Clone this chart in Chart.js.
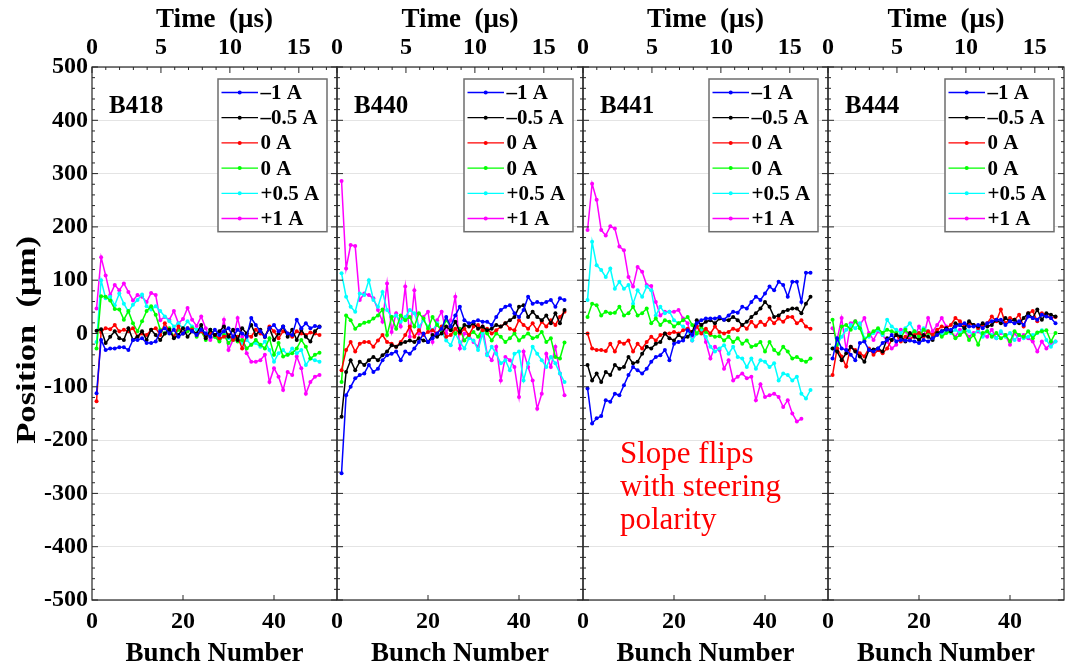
<!DOCTYPE html>
<html>
<head>
<meta charset="utf-8">
<script src="https://cdn.jsdelivr.net/npm/chart.js@4.4.1/dist/chart.umd.min.js"></script>
<style>
  body { margin: 0; background: #ffffff; }
  #wrap { position: relative; width: 1068px; height: 669px; overflow: hidden; background: #ffffff; }
  #wrap canvas { position: absolute; top: 0; }
</style>
</head>
<body>
<div id="wrap">
  <canvas id="p1"></canvas>
  <canvas id="p2"></canvas>
  <canvas id="p3"></canvas>
  <canvas id="p4"></canvas>
</div>
<script>
// bunch numbers (x) shared by every panel
const bunches = [1, 2, 3, 4, 5, 6, 7, 8, 9, 10, 11, 12, 13, 14, 15, 16, 17, 18, 19, 20,
  21, 22, 23, 24, 25, 26, 27, 28, 29, 30, 31, 32, 33, 34, 35, 36, 37, 38, 39, 40,
  41, 42, 43, 44, 45, 46, 47, 48, 49, 50];

const seriesLabels = ["\u20131 A", "\u20130.5 A", "0 A", "0 A", "+0.5 A", "+1 A"];
const seriesColors = ["#0000ff", "#000000", "#ff0000", "#00ff00", "#00ffff", "#ff00ff"];
const panelNames = ["B418", "B440", "B441", "B444"];

// B418
const b418_m1 = [-112, -12, -31, -28, -28, -26, -26, -31, -12, -12, -9, -18, -18, -15, 4, 10, 0, 7, -6, 0, 10, 4, -3, 7, 0, -6, 7, -3, 4, 10, -6, 7, 0, -6, 29, 16, 4, -6, 10, 16, 4, 13, 0, -3, 26, 10, 19, 10, 14, 12];
const b418_m05 = [5, 8, -18, -6, 4, -9, -12, 10, -12, -6, 4, -12, 7, -3, -12, 0, 7, -9, -3, 10, -6, 4, 0, 16, -9, 7, -3, 4, 13, -6, 7, -12, 10, 0, 16, -3, 7, -6, 10, -12, 0, 13, -6, 7, -12, 7, -6, -15, 4, 13];
const b418_0a = [-127, 3, 10, 8, 16, 4, 7, 4, 10, -6, 0, -3, 7, 10, -3, 19, 4, -6, 13, 0, 10, 7, -3, 4, -6, 0, -3, -9, -6, -3, -12, -6, -28, -3, -6, 7, 0, -6, 13, 4, -9, 4, 0, -6, 4, 0, -3, 2, 0, -3];
const b418_0b = [-28, 70, 69, 62, 46, 45, 26, 42, 19, 4, 23, 42, 51, 35, 7, 0, 10, -6, 7, 0, 4, 10, -6, 4, -12, 7, -6, -15, -3, -18, -9, -15, -12, -28, -21, -12, -21, -28, -9, -40, -18, -43, -40, -37, -28, -12, -25, -47, -40, -36];
const b418_p05 = [-16, 100, 66, 69, 53, 75, 56, 41, 54, 63, 73, 51, 45, 51, 42, 32, 23, 13, 19, 10, 23, 13, 7, 10, 0, 4, -6, -3, 4, -9, -12, -6, -18, -12, -21, -18, -25, -15, -31, -53, -37, -31, -40, -28, -37, -31, -59, -47, -50, -53];
const b418_p1 = [47, 143, 109, 72, 91, 81, 94, 78, 62, 72, 69, 59, 76, 72, 25, 31, 26, 42, 19, 27, 48, 26, 14, 32, 10, -12, -3, -12, 26, -31, -12, 29, -6, -37, -53, -53, -50, -40, -91, -65, -81, -106, -72, -78, -43, -65, -113, -91, -81, -78];

// B440
const b440_m1 = [-262, -116, -100, -84, -78, -75, -59, -72, -66, -50, -41, -38, -34, -50, -34, -38, -28, -16, 0, -16, -9, 0, 9, 31, 13, 34, 50, 25, 19, 22, 25, 22, 22, 16, 31, 44, 50, 53, 38, 31, 44, 69, 56, 59, 56, 59, 63, 50, 66, 63];
const b440_m05 = [-156, -72, -50, -69, -53, -59, -50, -44, -50, -41, -34, -22, -25, -19, -16, -13, -16, -9, -13, -16, -3, -6, 0, 13, 6, 22, 3, 16, 13, 19, 9, 13, 6, 9, 16, 13, 19, 25, 31, 50, 53, 31, 41, 31, 25, 34, 19, 38, 19, 44];
const b440_0a = [-69, -31, -16, -34, -19, -16, -16, -25, -13, -3, -16, -19, -25, -16, -3, 13, -6, 6, -3, 3, 6, 0, 13, -6, -3, 9, 0, 9, -3, 13, 16, 6, 9, 0, 6, 13, 19, 9, 6, 25, 16, 9, 19, 6, 22, 13, 25, 16, 31, 41];
const b440_0b = [-91, 34, 25, 9, 16, 20, 22, 28, 34, 45, -3, 31, 9, 34, 25, 31, 13, 38, 28, 9, 31, 16, 6, 25, 13, 0, 9, -13, -3, 3, -6, 9, 0, -13, 0, -6, -16, -9, 0, -13, -6, 0, -9, -6, 3, -16, -9, -44, -47, -17];
const b440_p05 = [113, 69, 50, 41, 75, 72, 100, 63, 50, 78, 44, 31, 34, 22, 31, 44, 38, 13, 25, 13, 6, 19, 3, -13, -22, 0, -16, -28, -9, -13, -31, 0, -41, -25, -38, -56, -50, -69, -38, -34, -88, -56, -25, -38, -50, -63, -44, -56, -75, -91];
const b440_p1 = [286, 122, 166, 164, 63, 75, 72, 66, 44, 22, 94, 3, 38, 13, 88, -6, 81, 0, 31, 41, -16, 25, 41, 0, 25, 69, -28, 0, -3, -16, -25, 13, -38, -50, -25, -88, -44, -50, -63, -119, -34, -63, -88, -141, -113, -38, -63, -25, -75, -116];

// B441
const b441_m1 = [-103, -169, -159, -155, -125, -128, -113, -116, -97, -78, -63, -69, -75, -66, -53, -44, -41, -31, -50, -19, -16, -13, 6, -3, 19, 25, 28, 28, 28, 31, 26, 34, 41, 39, 50, 47, 59, 69, 63, 75, 88, 81, 97, 91, 69, 97, 97, 59, 114, 114];
const b441_m05 = [-59, -88, -75, -91, -72, -78, -59, -66, -63, -44, -56, -53, -38, -25, -28, -19, -16, 0, -9, -13, -3, -9, -6, 3, 25, 16, 22, 25, 19, 28, 26, 25, 31, 25, 16, 22, 31, 38, 47, 59, 50, 31, 34, 41, 44, 47, 47, 38, 56, 69];
const b441_0a = [0, -28, -31, -31, -33, -19, -34, -16, -19, -13, -34, -19, -28, -16, -6, -13, -3, 0, 0, 3, 0, 6, 9, 3, 13, 0, 9, 0, 13, 3, 0, 3, 9, 6, 16, 9, 22, 13, 22, 16, 28, 19, 28, 22, 31, 31, 19, 25, 13, 9];
const b441_0b = [31, 56, 53, 34, 41, 38, 39, 50, 34, 38, 50, 34, 38, 47, 19, 28, 16, 25, 22, 13, 19, 25, 31, 16, 0, 13, 3, -3, -6, -5, -13, -6, -16, -9, -19, -13, -25, -22, -16, -34, -16, -31, -38, -25, -34, -47, -44, -50, -53, -47];
const b441_p05 = [63, 172, 128, 119, 106, 122, 84, 97, 84, 91, 56, 81, 69, 88, 81, 34, 50, 38, 41, 25, 19, 13, 6, -13, 0, 6, -6, -25, -34, -28, -22, -38, -25, -44, -47, -63, -47, -66, -50, -53, -63, -56, -88, -75, -78, -88, -81, -113, -122, -106];
const b441_p1 = [194, 281, 251, 194, 184, 201, 197, 163, 156, 106, 88, 125, 116, 91, 89, 59, 34, 41, 41, 41, 44, 28, 19, -13, 13, 16, -16, -47, -25, -31, -66, -50, -88, -81, -75, -84, -81, -125, -95, -119, -116, -113, -119, -138, -125, -150, -165, -160, null, null];

// B444
const b444_m1 = [-47, -9, -28, -31, -40, -50, -18, -15, -31, -34, -28, -18, -12, -3, -15, -12, -13, -13, -15, -18, -12, -15, -9, -3, 4, 7, 7, 13, 16, 19, 13, 13, 16, 10, 19, 23, 26, 26, 16, 23, 19, 23, 16, 32, 29, 26, 35, 32, 29, 19];
const b444_m05 = [-28, -34, -50, -37, -25, -34, -43, -53, -31, -30, -28, -34, -9, -12, -3, -6, -15, 1, -6, -12, -3, -6, -12, 1, 4, 10, 4, 19, 16, 10, 23, 16, 13, 19, 13, 16, 26, 19, 29, 23, 26, 19, 29, 38, 29, 45, 26, 38, 35, 32];
const b444_0a = [-78, -28, -43, -62, -25, -31, -37, -43, -28, -40, -31, -37, -28, -12, -3, -15, -6, -12, -3, 1, -6, 4, -3, 7, 13, 10, 16, 29, 23, 13, 19, 16, 10, 16, 19, 32, 23, 45, 19, 29, 26, 35, 13, 38, 42, 23, 38, 35, 29, 31];
const b444_0b = [26, -28, 13, 16, 7, 23, 10, -12, -3, 4, 10, 1, 7, 4, 1, -9, 7, -3, 4, -6, 7, 1, -3, 4, -6, 1, 4, -9, -3, 4, -12, -3, -21, 1, 4, -6, 1, -9, -3, -15, 4, -3, -6, 4, -9, 2, 4, 6, -15, 1];
const b444_p05 = [-28, -21, -6, 7, 16, 10, 19, -9, -6, 1, 7, -3, 26, 13, 7, 1, 10, 19, 4, 1, 10, 4, -6, 7, -3, 4, 1, 7, 1, 10, 4, -3, 7, -6, 4, -3, -9, 4, -6, 1, -12, -3, -9, -6, -3, 1, 6, -12, -25, -15];
const b444_p1 = [10, -12, 29, -31, 19, 23, 16, 29, 1, -12, 4, -3, -15, -28, -21, 7, 4, -9, -6, 13, -6, 29, 4, 16, 29, 13, 4, -6, 7, 4, -6, 1, 4, -3, -6, 7, -9, 1, -3, -21, 1, -12, -3, -9, -15, -34, -15, -28, -18, -15];

const panelSeries = [
  [b418_m1, b418_m05, b418_0a, b418_0b, b418_p05, b418_p1],
  [b440_m1, b440_m05, b440_0a, b440_0b, b440_p05, b440_p1],
  [b441_m1, b441_m05, b441_0a, b441_0b, b441_p05, b441_p1],
  [b444_m1, b444_m05, b444_0a, b444_0b, b444_p05, b444_p1],
];

// plot area edges of each panel, in page pixels
const panelEdges = [[92, 337], [337, 583], [583, 828], [828, 1064]];
const pxPerBunch = 4.55;
const usPerBunch = 0.33;
const pad = 14;

const fontFam = "'Liberation Serif', 'Times New Roman', serif";
const tickFont = { family: fontFam, size: 24, weight: "bold", lineHeight: 1 };
const titleFont = { family: fontFam, size: 27, weight: "bold", lineHeight: 1 };

const panelDecor = {
  id: "panelDecor",
  afterDatasetsDraw(chart, args, opts) {
    const { ctx, chartArea: a } = chart;
    const y = chart.scales.y;
    ctx.save();
    ctx.textBaseline = "middle";
    ctx.textAlign = "left";

    // panel name
    ctx.fillStyle = "#000";
    ctx.font = "bold 25px " + fontFam;
    ctx.fillText(opts.name, a.left + 17, y.getPixelForValue(426));

    // annotation
    if (opts.note) {
      ctx.fillStyle = "#ff0000";
      ctx.font = "31px " + fontFam;
      opts.note.forEach((line, i) => {
        ctx.fillText(line, a.left + 37, y.getPixelForValue(opts.noteY[i]));
      });
    }

    // legend box
    const bw = 109, rowH = 25.2;
    const bx = a.right - 10 - bw, by = a.top + 12, bh = rowH * 6 + 1.5;
    ctx.fillStyle = "#fff";
    ctx.fillRect(bx, by, bw, bh);
    ctx.strokeStyle = "#6e6e6e";
    ctx.lineWidth = 1.5;
    ctx.strokeRect(bx, by, bw, bh);
    ctx.font = "bold 21px " + fontFam;
    chart.data.datasets.forEach((ds, i) => {
      const cy = by + 13.5 + i * rowH;
      ctx.strokeStyle = ds.borderColor;
      ctx.lineWidth = 1.3;
      ctx.beginPath();
      ctx.moveTo(bx + 3.5, cy);
      ctx.lineTo(bx + 40, cy);
      ctx.stroke();
      ctx.fillStyle = ds.borderColor;
      ctx.beginPath();
      ctx.arc(bx + 21.7, cy, 2, 0, Math.PI * 2);
      ctx.fill();
      ctx.fillStyle = "#000";
      ctx.fillText(ds.label, bx + 42.5, cy + 1);
    });
    ctx.restore();
  },
  afterDraw(chart, args, opts) {
    const { ctx, chartArea: a } = chart;
    const x = chart.scales.x, t = chart.scales.time, y = chart.scales.y;
    ctx.save();
    ctx.strokeStyle = "#262626";
    ctx.lineWidth = 1.2;
    ctx.strokeRect(a.left, a.top, a.right - a.left, a.bottom - a.top);
    ctx.lineWidth = 1;
    ctx.beginPath();
    for (let v = -500; v <= 500; v += 20) {
      const py = y.getPixelForValue(v);
      const len = v % 100 === 0 ? 6 : 3;
      ctx.moveTo(a.left, py); ctx.lineTo(a.left + len, py);
      ctx.moveTo(a.right, py); ctx.lineTo(a.right - len, py);
    }
    for (let s = 0; s <= t.max; s += 1) {
      const px = t.getPixelForValue(s);
      ctx.moveTo(px, a.top); ctx.lineTo(px, a.top + (s % 5 === 0 ? 6 : 3));
    }
    for (let b = 20; b <= x.max; b += 20) {
      const px = x.getPixelForValue(b);
      ctx.moveTo(px, a.bottom); ctx.lineTo(px, a.bottom - 5);
    }
    ctx.stroke();

    // y axis title, stretched along its length like the source figure
    if (opts.yTitle) {
      ctx.translate(a.left - 64, y.getPixelForValue(-12));
      ctx.rotate(-Math.PI / 2);
      ctx.scale(1.28, 1);
      ctx.font = "bold 27px " + fontFam;
      ctx.fillStyle = "#000";
      ctx.textAlign = "center";
      ctx.textBaseline = "middle";
      ctx.fillText(opts.yTitle, 0, 0);
    }
    ctx.restore();
  }
};

function makeChart(i) {
  const [left, right] = panelEdges[i];
  const canvas = document.getElementById("p" + (i + 1));
  const cLeft = i === 0 ? 0 : left - pad;
  const cWidth = right + pad - cLeft;
  canvas.width = cWidth;
  canvas.height = 669;
  canvas.style.left = cLeft + "px";
  canvas.style.width = cWidth + "px";
  canvas.style.height = "669px";

  const xMax = (right - left) / pxPerBunch;
  const first = i === 0;

  const datasets = panelSeries[i].map((vals, k) => ({
    label: seriesLabels[k],
    data: vals.map((v, j) => ({ x: bunches[j], y: v })),
    borderColor: seriesColors[k],
    backgroundColor: seriesColors[k],
    borderWidth: 1.5,
    pointRadius: 2,
    pointBorderWidth: 0,
    tension: 0,
    spanGaps: false,
  }));

  const plugOpts = { name: panelNames[i] };
  if (first) plugOpts.yTitle = "Position  (\u03bcm)";
  if (i === 2) {
    plugOpts.note = ["Slope flips", "with steering", "polarity"];
    plugOpts.noteY = [-228, -290, -352];
  }

  return new Chart(canvas, {
    type: "line",
    data: { datasets },
    plugins: [panelDecor],
    options: {
      responsive: false,
      animation: false,
      devicePixelRatio: 1,
      layout: { padding: { left: first ? 0 : pad, right: pad, top: 0, bottom: 0 } },
      plugins: {
        legend: { display: false },
        tooltip: { enabled: false },
        panelDecor: plugOpts,
      },
      scales: {
        x: {
          type: "linear",
          position: "bottom",
          min: 0,
          max: xMax,
          ticks: { stepSize: 20, includeBounds: false, padding: 2, font: tickFont, color: "#000", maxRotation: 0 },
          grid: { display: false },
          border: { display: false },
          title: { display: true, text: "Bunch Number", font: titleFont, color: "#000", padding: { top: 0, bottom: 1 } },
          afterFit: (s) => { s.height = 69; },
        },
        time: {
          type: "linear",
          position: "top",
          min: 0,
          max: xMax * usPerBunch,
          ticks: { stepSize: 5, includeBounds: false, padding: -1, font: tickFont, color: "#000", maxRotation: 0 },
          grid: { display: false },
          border: { display: false },
          title: { display: true, text: "Time  (\u03bcs)", font: titleFont, color: "#000", padding: { top: 7, bottom: 0 } },
          afterFit: (s) => { s.height = 67; },
        },
        y: {
          type: "linear",
          position: "left",
          min: -500,
          max: 500,
          ticks: { stepSize: 100, display: first, padding: 4, font: tickFont, color: "#000" },
          grid: { color: "#e4e4e4", drawTicks: false },
          border: { display: false },
          title: { display: false },
          afterFit: (s) => { s.width = first ? 92 : 0; },
        },
      },
    },
  });
}

const charts = [0, 1, 2, 3].map(makeChart);
</script>
</body>
</html>
